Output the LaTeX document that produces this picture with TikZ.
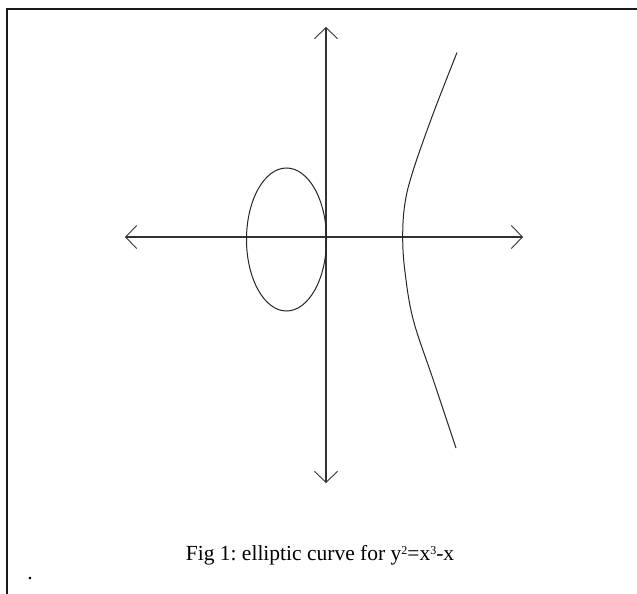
\documentclass[tikz,border=0pt]{standalone}
\usepackage{fontspec}
\setmainfont{Liberation Serif}
\usetikzlibrary{arrows.meta}
\newcommand{\smallsup}[1]{\raisebox{0.55ex}{\fontsize{12}{12}\selectfont #1}}
\begin{document}
\frenchspacing
\begin{tikzpicture}[x=1pt,y=-1pt,
  frame/.style={line width=1.8pt,black!90},
  axis/.style={line width=1.5pt,black!80,
    -{Straight Barb[length=11pt,width=23pt,line width=0.9pt]}},
  curve/.style={line width=1pt,black!85},
  caption/.style={font=\fontsize{21.5}{24}\selectfont,inner sep=0pt}]
\useasboundingbox (0,0) rectangle (637,594);
% frame (top and left lines only)
\coordinate (ftl) at (7,9);
\coordinate (ftr) at (637,9);
\coordinate (fbl) at (7,594);
\draw[frame] (fbl) -- (ftl) -- (ftr);
% axes
\coordinate (O) at (326,237);
\coordinate (xl) at (125,237);
\coordinate (xr) at (523,237);
\coordinate (yt) at (326,27);
\coordinate (yb) at (326,483);
\draw[axis] (O) -- (xl);
\draw[axis] (O) -- (xr);
\draw[axis] (O) -- (yt);
\draw[axis] (O) -- (yb);
% oval component
\draw[curve] (286.5,239.5) ellipse [x radius=40, y radius=71.5];
% unbounded branch
\draw[curve] plot[smooth,tension=0.6] coordinates {
  (457,52.5) (433.3,113.3) (413.3,170) (405,203) (402.7,236.7)
  (405,272) (413.3,320) (433.3,380) (456,448)};
% caption
\node[caption,anchor=base] (cap) at (320,560) {Fig 1: elliptic curve for y\smallsup{2}=x\smallsup{3}-x};
\node[inner sep=0pt,font=\fontsize{21.5}{24}\selectfont,anchor=base] (dot) at (30,579) {.};
\end{tikzpicture}
\end{document}
